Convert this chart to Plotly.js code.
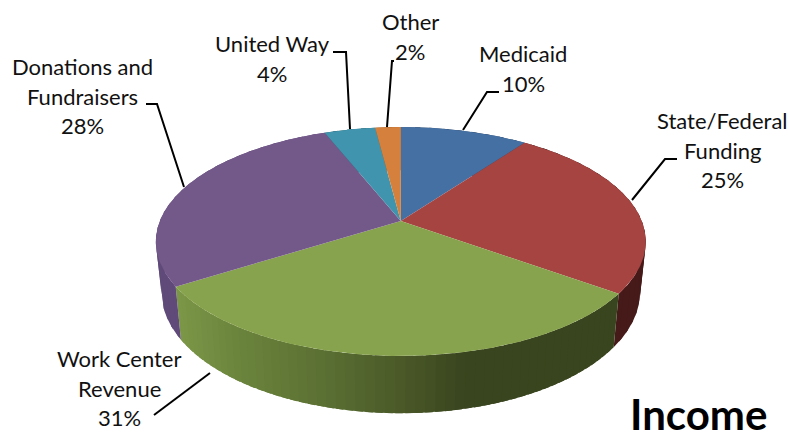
<!DOCTYPE html>
<html>
<head>
<meta charset="utf-8">
<script src="https://cdn.plot.ly/plotly-3.0.1.min.js"></script>
<style>html,body{margin:0;padding:0;background:#fff;overflow:hidden}</style>
</head>
<body>
<div id="chart" style="width:790px;height:439px"></div>
<script>
// Data (clockwise from 12 o'clock)
var categories = ["Medicaid", "State/Federal Funding", "Work Center Revenue", "Donations and Fundraisers", "United Way", "Other"];
var values = [10, 25, 31, 28, 4, 2];
var topColors = ["#4570a4", "#a64441", "#88a34d", "#73588a", "#4094ad", "#d5803c"];
var sideColors = ["#2e4766", "#451a19", "#39451e", "#5f4a7a", "#28606f", "#8a5226"];
var greenStopsX = [180, 250, 330, 400, 470, 620];
var greenStopsRGB = [[125,152,72],[106,131,60],[91,112,51],[77,92,42],[57,69,30],[57,69,30]];

var labelLines = [
  ["Medicaid", "10%"],
  ["State/Federal", "Funding", "25%"],
  ["Work Center", "Revenue", "31%"],
  ["Donations and", "Fundraisers", "28%"],
  ["United Way", "4%"],
  ["Other", "2%"]
];
var labelAnchorX = [523, 722, 119, 82, 272, 410];
var labelAnchorY = [53.5, 120.5, 358.5, 66.5, 43.5, 21.5];
var labelLineGap = 29.7;
var leaders = [
  [[499,92],[487,92],[463,130]],
  [[677,159],[665,159],[632,200]],
  [[210,373],[154,415]],
  [[146,104],[157,104],[184,187]],
  [[333,52],[346,52],[350,129]],
  [[394,61],[392,61],[387,127]]
];
var chartTitle = "Income";

// Perspective projection of the pie's two rims
var CX = 400.8, A = 241, K = 0.179;
var rimTop = {cy: 221, b: 110.8, s: 1};
var rimBottom = {cy: 270, b: 117.6, s: 0.977};
function rimPoint(rim, deg) {
  var t = deg * Math.PI / 180, d = 1 + K * Math.cos(t);
  return [CX + rim.s * A * Math.sin(t) / d, rim.cy - rim.b * Math.cos(t) / d];
}
function greenAt(x) {
  var i = 0;
  while (i < greenStopsX.length - 2 && x > greenStopsX[i + 1]) i++;
  var f = Math.max(0, Math.min(1, (x - greenStopsX[i]) / (greenStopsX[i + 1] - greenStopsX[i])));
  var c = greenStopsRGB[i].map(function (v, j) { return Math.round(v + (greenStopsRGB[i + 1][j] - v) * f); });
  return "rgb(" + c.join(",") + ")";
}
function band(a0, a1, color) {
  var xs = [], ys = [], i, p, n = 3;
  for (i = 0; i <= n; i++) { p = rimPoint(rimTop, a0 + (a1 - a0) * i / n); xs.push(p[0]); ys.push(p[1]); }
  for (i = n; i >= 0; i--) { p = rimPoint(rimBottom, a0 + (a1 - a0) * i / n); xs.push(p[0]); ys.push(p[1]); }
  return {type: "scatter", mode: "lines", x: xs, y: ys, fill: "toself", fillcolor: color,
          line: {color: color, width: 0}, hoverinfo: "skip", showlegend: false};
}

var total = values.reduce(function (a, b) { return a + b; }, 0);
var traces = [], tops = [], acc = 0;
values.forEach(function (v, i) {
  var a0 = acc / total * 360, a1 = (acc + v) / total * 360;
  acc += v;
  var isGreen = categories[i].indexOf("Work") === 0;
  var step = isGreen ? 2 : 4;
  for (var a = a1; a > a0; a -= step) {
    var lo = Math.max(a0, a - step), hi = Math.min(a1, a + 1.5);
    var c = isGreen ? greenAt(rimPoint(rimBottom, (a + lo) / 2)[0]) : sideColors[i];
    traces.push(band(lo, hi, c));
  }
  var xs = [CX], ys = [rimTop.cy], n = Math.ceil(a1 - a0);
  for (var k = 0; k <= n; k++) {
    var p = rimPoint(rimTop, a0 + (a1 - a0) * k / n);
    xs.push(p[0]); ys.push(p[1]);
  }
  xs.push(CX); ys.push(rimTop.cy);
  tops.push({type: "scatter", mode: "lines", name: categories[i], x: xs, y: ys, fill: "toself",
             fillcolor: topColors[i], line: {color: topColors[i], width: 0}, hoverinfo: "name", showlegend: false});
});
traces = traces.concat(tops);

var annotations = [];
labelLines.forEach(function (lines, i) {
  lines.forEach(function (txt, j) {
    annotations.push({x: labelAnchorX[i], y: labelAnchorY[i] + j * labelLineGap, xref: "x", yref: "y",
      text: txt, showarrow: false, xanchor: "center", yanchor: "middle",
      font: {family: "Lato, 'Open Sans', sans-serif", size: 22, color: "#111"}});
  });
});
annotations.push({x: 698, y: 414, xref: "x", yref: "y", text: "<b>" + chartTitle + "</b>", showarrow: false,
  xanchor: "center", yanchor: "middle", font: {family: "Lato, 'Open Sans', sans-serif", size: 42, color: "#000"}});

var shapes = leaders.map(function (pts) {
  return {type: "path", xref: "x", yref: "y",
    path: pts.map(function (p, i) { return (i ? "L" : "M") + p[0] + "," + p[1]; }).join(" "),
    line: {color: "#000", width: 2}, fillcolor: "rgba(0,0,0,0)"};
});

Plotly.newPlot("chart", traces, {
  width: 790, height: 439, margin: {l: 0, r: 0, t: 0, b: 0},
  paper_bgcolor: "#fff", plot_bgcolor: "#fff", showlegend: false,
  xaxis: {range: [0, 790], visible: false, fixedrange: true},
  yaxis: {range: [439, 0], visible: false, fixedrange: true},
  annotations: annotations, shapes: shapes
}, {displayModeBar: false, staticPlot: true});
</script>
</body>
</html>
